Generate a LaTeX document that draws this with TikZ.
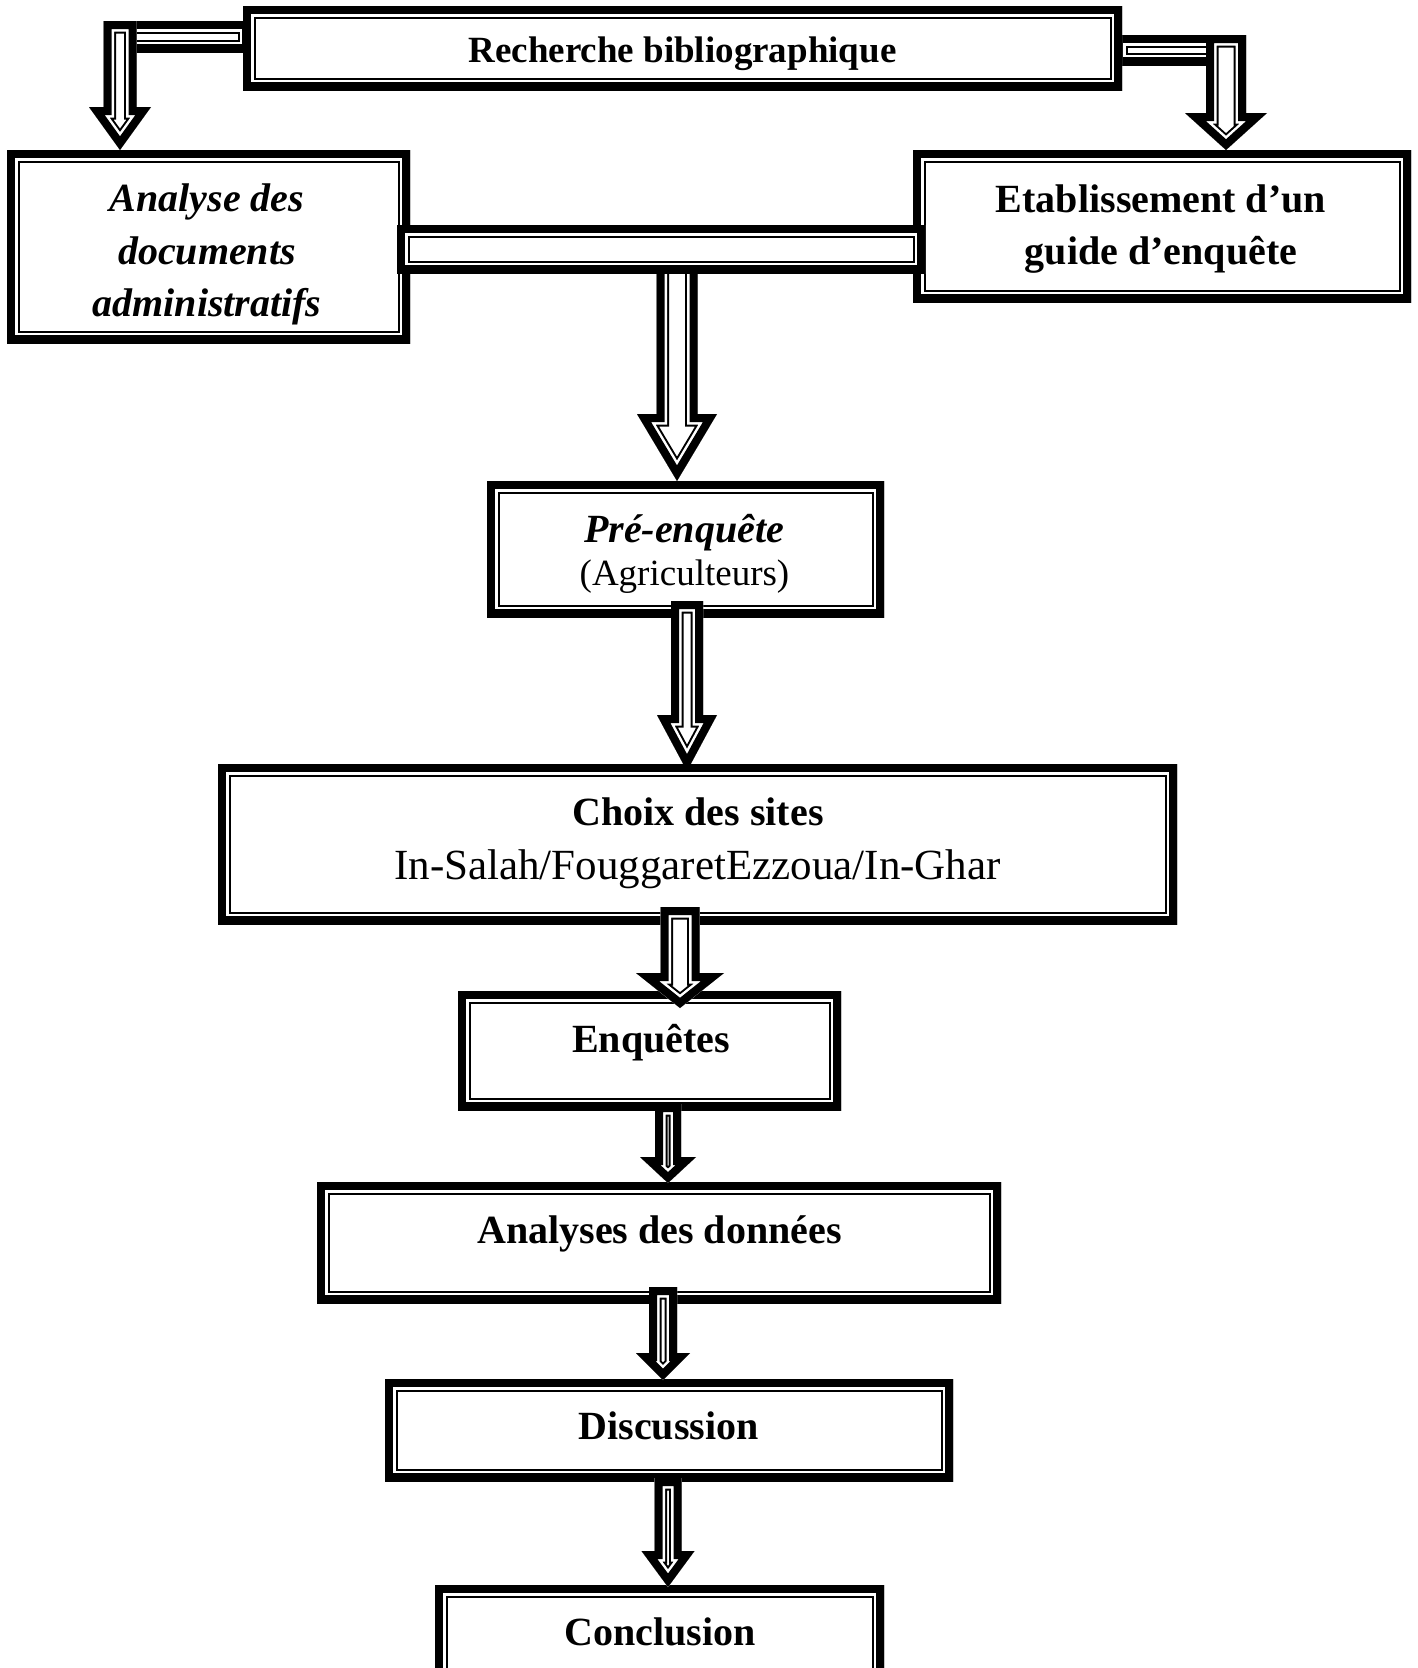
\documentclass[tikz,border=0pt]{standalone}
\usepackage{fontspec}
\setmainfont{Liberation Serif}
\tikzset{
  every node/.style={inner sep=0pt, outer sep=0pt},
  lbl/.style={anchor=base, font=\fontsize{40}{48}\selectfont\bfseries},
  lbli/.style={anchor=base, font=\fontsize{40}{48}\selectfont\bfseries\itshape},
  lblsmall/.style={anchor=base, font=\fontsize{37}{44}\selectfont\bfseries},
  lblreg/.style={anchor=base, font=\fontsize{37}{44}\selectfont},
  lblsites/.style={anchor=base, font=\fontsize{43}{50}\selectfont},
}
% thick-thin double outline of any closed path
\newcommand\ttdraw[1]{%
  \begin{scope}
    \clip #1;
    \fill[white] #1;
    \draw[line width=25pt] #1;
    \draw[line width=21pt,white] #1;
    \draw[line width=16pt] #1;
  \end{scope}}
\newcommand\ttbox[5]{%
  \coordinate (#1-nw) at (#2,#3);
  \coordinate (#1-se) at (#4,#5);
  \ttdraw{(#1-nw) rectangle (#1-se)}}
% name, cx, ytop, shaft half width, head half width, y head, y tip
\newcommand\ttarrow[7]{%
  \coordinate (#1-top) at (#2,#3);
  \coordinate (#1-tip) at (#2,#7);
  \ttdraw{(#2-#4,#3) -- (#2-#4,#6) -- (#2-#5,#6) -- (#1-tip) -- (#2+#5,#6) -- (#2+#4,#6) -- (#2+#4,#3) -- cycle}}
\begin{document}
\begin{tikzpicture}[x=1pt,y=-1pt]
\useasboundingbox (0,0) rectangle (1418,1668);
\clip (0,0) rectangle (1418,1668);
\fill[white] (0,0) rectangle (1418,1668);

% top bars
\ttbox{barL}{110}{21}{250}{52}
\ttbox{barR}{1115}{35}{1240}{65}
% Recherche
\ttbox{rech}{243}{6}{1122}{90}
% side arrows
\ttarrow{aL}{120}{21}{16.5}{31}{107}{150}
\ttarrow{aR}{1226}{35}{20}{41}{113}{150}
% boxes row 2
\ttbox{anal}{7}{150}{410}{343}
\ttbox{etab}{913}{150}{1411}{302}
% middle arrow and bar
\ttarrow{aM}{677}{260}{20.5}{40}{414}{481}
\ttbox{barM}{397}{225}{925}{273}
% Pre-enquete
\ttbox{pre}{487}{481}{884}{617}
\ttarrow{a4}{687}{601}{16}{30}{715}{771}
% Choix
\ttbox{choix}{218}{764}{1177}{924}
% Enquetes
\ttbox{enq}{458}{991}{841}{1110}
\ttarrow{a5}{680}{907}{19.5}{44}{973}{1008}
% Analyses
\ttbox{ana}{317}{1182}{1001}{1303}
\ttarrow{a6}{668}{1104}{13}{28}{1157}{1183}
% Discussion
\ttbox{disc}{385}{1379}{953}{1481}
\ttarrow{a7}{663}{1287}{14}{27}{1353}{1380}
% Conclusion
\ttbox{conc}{435}{1585}{884}{1720}
\ttarrow{a8}{668}{1478}{13.5}{26.5}{1551}{1587}

% texts
\node[lblsmall] (t-rech) at (682.5,62) {Recherche bibliographique};
\node[lbli] (t-anal1) at (207,211) {Analyse des};
\node[lbli] (t-anal2) at (207,264) {documents};
\node[lbli] (t-anal3) at (207,316) {administratifs};
\node[lbl] (t-etab1) at (1161,212) {Etablissement d’un};
\node[lbl] (t-etab2) at (1161,264) {guide d’enquête};
\node[lbli] (t-pre1) at (684,542) {Pré-enquête};
\node[lblreg] (t-pre2) at (684.5,585) {(Agriculteurs)};
\node[lbl] (t-choix1) at (698,825) {Choix des sites};
\node[lblsites] (t-choix2) at (697.5,879) {In-Salah/FouggaretEzzoua/In-Ghar};
\node[lbl] (t-enq) at (651,1052) {Enquêtes};
\node[lbl] (t-ana) at (659.5,1243) {Analyses des données};
\node[lbl] (t-disc) at (668.5,1439) {Discussion};
\node[lbl] (t-conc) at (660,1645) {Conclusion};
\end{tikzpicture}
\end{document}
